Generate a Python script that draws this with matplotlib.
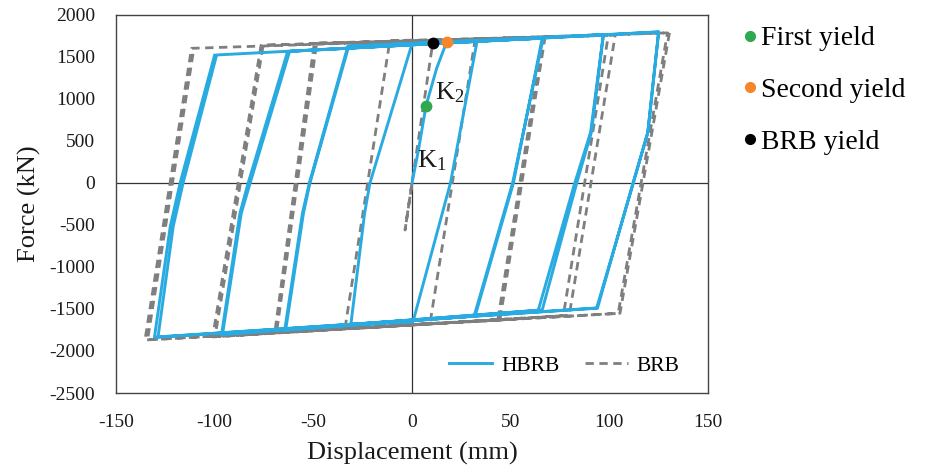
import matplotlib
matplotlib.use("Agg")
import matplotlib.pyplot as plt
from matplotlib.lines import Line2D

plt.rcParams["font.family"] = ["Liberation Serif", "DejaVu Serif"]
plt.rcParams["mathtext.fontset"] = "custom"
plt.rcParams["mathtext.rm"] = "Liberation Serif"
plt.rcParams["axes.unicode_minus"] = False

# hybrid brace: two-stage yield, cycles at +-33, +-66, +-97, +-125 mm
HBRB_X = [0, 3.2, 7.1, 12.5, 17.6, 33,
          19.5, 0.5, -31, -24, -21.3, 0,
          66, 51.4, 32, -64, -55, -51.7, -32,
          66.5, 51, 31.5, -64.5, -55.5, -52, -32.5,
          97, 91, 83.5, 66, -96.5, -87.2, -83, -63,
          97, 90.5, 82.5, 64, -96, -86.5, -82, -62,
          125, 119.5, 112.2, 93.6, -128.7, -121, -116, -99,
          125, 119.5, 112, 94, -130.5, -122.5, -117.5, -100]
HBRB_Y = [0, 380, 917, 1365, 1680, 1688,
          0, -1655, -1690, -360, 0, 1655,
          1722, 0, -1583, -1750, -360, 0, 1630,
          1725, 0, -1585, -1752, -360, 0, 1628,
          1765, 611, 0, -1512, -1805, -361, 0, 1565,
          1768, 600, 0, -1515, -1800, -360, 0, 1568,
          1798, 600, 0, -1488, -1833, -518, 0, 1524,
          1798, 600, 0, -1490, -1837, -520, 0, 1522]

# conventional brace: single yield, two cycles per amplitude
BRB_X = [0, -3.5, 10.5, 32, 9.1, -34, -11.2,
         67.4, 44.6, -68.6, -48.3, 66.5, 43.5, -69.5, -49.5,
         103, 79.7, -99.8, -75.4, 99.5, 76.7, -101, -76.5,
         130.5, 105.4, -135.3, -111.7, 129.5, 104.5, -134, -110.5]
BRB_Y = [0, -560, 1663, 1705, -1678, -1738, 1695,
         1730, -1628, -1775, 1665, 1728, -1630, -1777, 1663,
         1760, -1575, -1830, 1640, 1757, -1580, -1832, 1638,
         1788, -1551, -1869, 1603, 1787, -1552, -1867, 1605]

YIELD_NAMES = ["First yield", "Second yield", "BRB yield"]
YIELD_X = [7.1, 17.6, 10.5]
YIELD_Y = [917, 1682, 1663]
YIELD_COLOURS = ["#2fa84f", "#f5862c", "#000000"]

BLUE, GREY, INK = "#29abe2", "#7f7f7f", "#1a1a1a"

fig = plt.figure(figsize=(9.33, 4.71), dpi=100)
ax = fig.add_axes([0.1243, 0.1656, 0.6345, 0.8026])

brb, = ax.plot(BRB_X, BRB_Y, color=GREY, lw=2.0, ls=(0, (3, 2)), zorder=2,
               label="BRB")
hbrb, = ax.plot(HBRB_X, HBRB_Y, color=BLUE, lw=2.1, zorder=3, label="HBRB",
                solid_joinstyle="round")
ax.axhline(0, color="#333333", lw=0.9, zorder=1)
ax.axvline(0, color="#333333", lw=0.9, zorder=1)

for x, y, c in zip(YIELD_X, YIELD_Y, YIELD_COLOURS):
    ax.plot(x, y, "o", color=c, ms=7.5, zorder=5)

ax.text(11.5, 990, r"$\mathrm{K_2}$", fontsize=19, color=INK, zorder=6)
ax.text(2.5, 190, r"$\mathrm{K_1}$", fontsize=19, color=INK, zorder=6)

ax.set_xlim(-150, 150)
ax.set_ylim(-2500, 2000)
ax.set_xticks(range(-150, 151, 50))
ax.set_yticks(range(-2500, 2001, 500))
ax.tick_params(length=0, labelsize=14, pad=15, colors=INK)
for spine in ax.spines.values():
    spine.set_color("#444444")
    spine.set_linewidth(1.0)
ax.set_xlabel("Displacement (mm)", fontsize=19, color=INK, labelpad=8)
ax.set_ylabel("Force (kN)", fontsize=19, color=INK, labelpad=6)

ax.legend([hbrb, brb], ["HBRB", "BRB"], loc="lower right",
          bbox_to_anchor=(0.985, -0.005), ncol=2, frameon=False,
          fontsize=15.5, handlelength=2.0, columnspacing=1.2,
          handletextpad=0.4)

handles = [Line2D([], [], ls="none", marker="o", ms=7, color=c)
           for c in YIELD_COLOURS]
fig.legend(handles, YIELD_NAMES, loc="upper left",
           bbox_to_anchor=(0.768, 0.998), frameon=False, fontsize=20,
           handlelength=0.6, handletextpad=0.1, labelspacing=0.95)

fig.savefig("out.png", dpi=100)
